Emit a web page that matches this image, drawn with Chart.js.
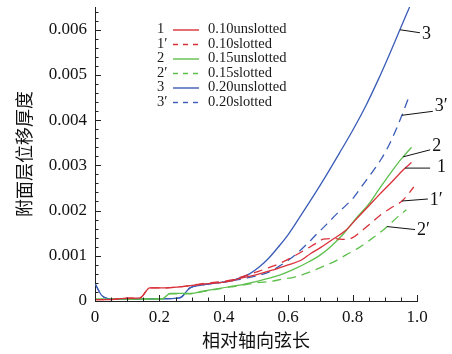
<!DOCTYPE html>
<html>
<head>
<meta charset="utf-8">
<script src="https://cdn.jsdelivr.net/npm/chart.js@4.4.0/dist/chart.umd.min.js"></script>
<style>
    html, body { margin: 0; padding: 0; background: #fff; }
    canvas { display: block; }
</style>
</head>
<body>
<canvas id="chart" width="452" height="354"></canvas>
<script>
// legend text and curve tags
const seriesNames = ['0.10unslotted', '0.10slotted', '0.15unslotted', '0.15slotted', '0.20unslotted', '0.20slotted'];
const seriesTags = ['1', '1′', '2', '2′', '3', '3′'];

// 1 : 0.10 unslotted
const x10u = [0, 0.05, 0.09, 0.14, 0.17, 0.22, 0.26, 0.33, 0.42, 0.45, 0.50, 0.55, 0.60, 0.64, 0.67, 0.70, 0.74, 0.78, 0.81, 0.85, 0.88, 0.92, 0.96, 0.983];
const y10u = [0.00003, 0.00003, 0.00006, 0.00007, 0.00029, 0.00029, 0.00031, 0.00037, 0.00044, 0.00050, 0.00058, 0.00068, 0.00080, 0.00090, 0.00105, 0.00118, 0.00137, 0.00157, 0.00180, 0.00210, 0.00233, 0.00262, 0.00292, 0.00306];

// 1' : 0.10 slotted
const x10s = [0, 0.05, 0.09, 0.14, 0.17, 0.22, 0.26, 0.33, 0.42, 0.45, 0.48, 0.51, 0.54, 0.57, 0.61, 0.65, 0.69, 0.71, 0.74, 0.78, 0.80, 0.83, 0.86, 0.89, 0.92, 0.955, 0.99];
const y10s = [0.00003, 0.00003, 0.00006, 0.00007, 0.00029, 0.00029, 0.00031, 0.00038, 0.00046, 0.00052, 0.00059, 0.00066, 0.00074, 0.00082, 0.00096, 0.00112, 0.00129, 0.00137, 0.00138, 0.00136, 0.00140, 0.00156, 0.00174, 0.00192, 0.00206, 0.00222, 0.00252];

// 2 : 0.15 unslotted
const x15u = [0, 0.05, 0.21, 0.233, 0.28, 0.30, 0.33, 0.42, 0.45, 0.50, 0.55, 0.58, 0.62, 0.66, 0.70, 0.73, 0.77, 0.81, 0.85, 0.88, 0.92, 0.95, 0.983];
const y15u = [0.00004, 0.00004, 0.00005, 0.00017, 0.00017, 0.00017, 0.00021, 0.00032, 0.00035, 0.00043, 0.00052, 0.00059, 0.00071, 0.00085, 0.00102, 0.00119, 0.00147, 0.00182, 0.00214, 0.00245, 0.00285, 0.00313, 0.00340];

// 2' : 0.15 slotted
const x15s = [0, 0.05, 0.21, 0.233, 0.28, 0.30, 0.33, 0.42, 0.45, 0.50, 0.55, 0.58, 0.62, 0.66, 0.70, 0.74, 0.78, 0.82, 0.86, 0.90, 0.94, 0.967];
const y15s = [0.00004, 0.00004, 0.00005, 0.00016, 0.00016, 0.00016, 0.00020, 0.00031, 0.00034, 0.00040, 0.00044, 0.00048, 0.00053, 0.00062, 0.00074, 0.00086, 0.00102, 0.00118, 0.00138, 0.00160, 0.00186, 0.00202];

// 3 : 0.20 unslotted
const x20u = [0, 0.01, 0.02, 0.04, 0.10, 0.20, 0.263, 0.295, 0.33, 0.38, 0.42, 0.45, 0.48, 0.51, 0.54, 0.57, 0.60, 0.64, 0.68, 0.72, 0.76, 0.80, 0.84, 0.88, 0.91, 0.94, 0.977];
const y20u = [0.00039, 0.00025, 0.00013, 0.00005, 0.00004, 0.00005, 0.00007, 0.00029, 0.00035, 0.00040, 0.00044, 0.00051, 0.00060, 0.00075, 0.00095, 0.00120, 0.00147, 0.00190, 0.00234, 0.00280, 0.00328, 0.00377, 0.00430, 0.00490, 0.00538, 0.00588, 0.00650];

// 3' : 0.20 slotted
const x20s = [0, 0.01, 0.02, 0.04, 0.10, 0.20, 0.263, 0.295, 0.33, 0.38, 0.42, 0.45, 0.48, 0.51, 0.54, 0.57, 0.60, 0.63, 0.66, 0.69, 0.72, 0.75, 0.78, 0.80, 0.83, 0.86, 0.89, 0.92, 0.95, 0.977];
const y20s = [0.00039, 0.00025, 0.00013, 0.00005, 0.00004, 0.00005, 0.00007, 0.00029, 0.00035, 0.00040, 0.00044, 0.00048, 0.00052, 0.00057, 0.00064, 0.00076, 0.00090, 0.00107, 0.00127, 0.00149, 0.00170, 0.00192, 0.00212, 0.00226, 0.00255, 0.00284, 0.00315, 0.00355, 0.00405, 0.00455];

const RED = '#d9313a';
const GREEN = '#5dbf4c';
const BLUE = '#3a5cb7';
const SERIF = '"Liberation Serif", "Times New Roman", serif';
const CJK = '"Noto Sans CJK SC", sans-serif';

function toPoints(xs, ys) {
    return xs.map((x, i) => ({x: x, y: ys[i]}));
}

function makeSeries(i, xs, ys, color, dashed) {
    return {
        label: seriesNames[i],
        data: toPoints(xs, ys),
        borderColor: color,
        backgroundColor: color,
        borderWidth: 1.3,
        borderDash: dashed ? [9, 6] : [],
        pointRadius: 0,
        cubicInterpolationMode: 'monotone',
        fill: false
    };
}

// inward ticks, major and minor
const tickMarks = {
    id: 'tickMarks',
    afterDraw(chart) {
        const {ctx, chartArea, scales: {x, y}} = chart;
        ctx.save();
        ctx.strokeStyle = '#222';
        ctx.lineWidth = 1;
        ctx.beginPath();
        for (let i = 0; i <= 20; i++) {
            const px = Math.round(x.getPixelForValue(i * 0.05)) + 0.5;
            const len = i % 4 === 0 ? 6 : 3.5;
            ctx.moveTo(px, chartArea.bottom);
            ctx.lineTo(px, chartArea.bottom - len);
        }
        for (let i = 0; i <= 32; i++) {
            const py = Math.round(y.getPixelForValue(i * 0.0002)) + 0.5;
            const len = i % 5 === 0 ? 6 : 3.5;
            ctx.moveTo(chartArea.left, py);
            ctx.lineTo(chartArea.left + len, py);
        }
        ctx.stroke();
        ctx.restore();
    }
};

// legend block with number tags
const tagLegend = {
    id: 'tagLegend',
    afterDraw(chart, args, opts) {
        const ctx = chart.ctx;
        ctx.save();
        ctx.font = opts.font;
        ctx.textBaseline = 'middle';
        chart.data.datasets.forEach((ds, i) => {
            const yy = opts.top + i * opts.rowHeight;
            ctx.fillStyle = '#1a1a1a';
            ctx.textAlign = 'left';
            ctx.fillText(seriesTags[i], opts.tagX, yy);
            ctx.fillText(ds.label, opts.textX, yy);
            ctx.strokeStyle = ds.borderColor;
            ctx.lineWidth = 1.4;
            ctx.setLineDash(ds.borderDash.length ? [5, 5] : []);
            ctx.beginPath();
            ctx.moveTo(opts.lineX0, yy + 0.5);
            ctx.lineTo(opts.lineX1, yy + 0.5);
            ctx.stroke();
        });
        ctx.restore();
    }
};

function valueAt(data, xv) {
    for (let i = 1; i < data.length; i++) {
        if (data[i].x >= xv) {
            const a = data[i - 1], b = data[i];
            return a.y + (b.y - a.y) * (xv - a.x) / (b.x - a.x);
        }
    }
    return data[data.length - 1].y;
}

// curve labels with leader lines
const curveTags = {
    id: 'curveTags',
    afterDraw(chart, args, opts) {
        const {ctx, scales: {x, y}} = chart;
        ctx.save();
        ctx.font = opts.font;
        ctx.textBaseline = 'middle';
        ctx.textAlign = 'left';
        ctx.strokeStyle = '#111';
        ctx.fillStyle = '#111';
        ctx.lineWidth = 1;
        opts.items.forEach((item, i) => {
            const ds = chart.data.datasets[i];
            const px = x.getPixelForValue(item.at);
            const py = y.getPixelForValue(valueAt(ds.data, item.at));
            ctx.beginPath();
            ctx.moveTo(px, py);
            ctx.lineTo(px + item.leader[0], py + item.leader[1]);
            ctx.stroke();
            ctx.fillText(seriesTags[i], px + item.text[0], py + item.text[1]);
        });
        ctx.restore();
    }
};

new Chart(document.getElementById('chart'), {
    type: 'line',
    data: {
        datasets: [
            makeSeries(0, x10u, y10u, RED, false),
            makeSeries(1, x10s, y10s, RED, true),
            makeSeries(2, x15u, y15u, GREEN, false),
            makeSeries(3, x15s, y15s, GREEN, true),
            makeSeries(4, x20u, y20u, BLUE, false),
            makeSeries(5, x20s, y20s, BLUE, true)
        ]
    },
    options: {
        responsive: false,
        animation: false,
        devicePixelRatio: 1,
        layout: {
            padding: {left: 0, right: 35, top: 7, bottom: 0}
        },
        scales: {
            x: {
                type: 'linear',
                min: 0,
                max: 1,
                grid: {drawOnChartArea: false, drawTicks: false},
                border: {display: true, color: '#222', width: 1},
                ticks: {
                    stepSize: 0.2,
                    padding: 6,
                    color: '#111',
                    font: {family: SERIF, size: 17},
                    callback: v => v === 0 ? '0' : v.toFixed(1)
                },
                title: {
                    display: true,
                    text: '相对轴向弦长',
                    color: '#111',
                    font: {family: CJK, size: 18},
                    padding: {top: 0, bottom: 3}
                },
                afterFit(s) {
                    s.height = 53;
                    s.paddingLeft = 0;
                    s.paddingRight = 0;
                }
            },
            y: {
                min: 0,
                max: 0.0065,
                grid: {drawOnChartArea: false, drawTicks: false},
                border: {display: true, color: '#222', width: 1},
                ticks: {
                    stepSize: 0.001,
                    includeBounds: false,
                    padding: 8,
                    color: '#111',
                    font: {family: SERIF, size: 17},
                    callback: v => v === 0 ? '0' : v.toFixed(3)
                },
                title: {
                    display: true,
                    text: '附面层位移厚度',
                    color: '#111',
                    font: {family: CJK, size: 18},
                    padding: {top: 13, bottom: 0}
                },
                afterFit(s) {
                    s.width = 95;
                    s.paddingTop = 0;
                    s.paddingBottom = 0;
                }
            }
        },
        plugins: {
            legend: {display: false},
            tooltip: {enabled: false},
            tagLegend: {
                font: '14.5px ' + SERIF,
                top: 29.5,
                rowHeight: 14.5,
                tagX: 157,
                lineX0: 173,
                lineX1: 199,
                textX: 208
            },
            curveTags: {
                font: '18px ' + SERIF,
                items: [
                    {at: 0.963, leader: [25, 0], text: [32, -1]},
                    {at: 0.953, leader: [26, -2], text: [28, -1]},
                    {at: 0.957, leader: [27, -7], text: [29, -11]},
                    {at: 0.907, leader: [28, 3], text: [30, 4]},
                    {at: 0.947, leader: [20, 3], text: [22, 5]},
                    {at: 0.953, leader: [31, -4], text: [33, -9]}
                ]
            }
        }
    },
    plugins: [tickMarks, tagLegend, curveTags]
});
</script>
</body>
</html>
